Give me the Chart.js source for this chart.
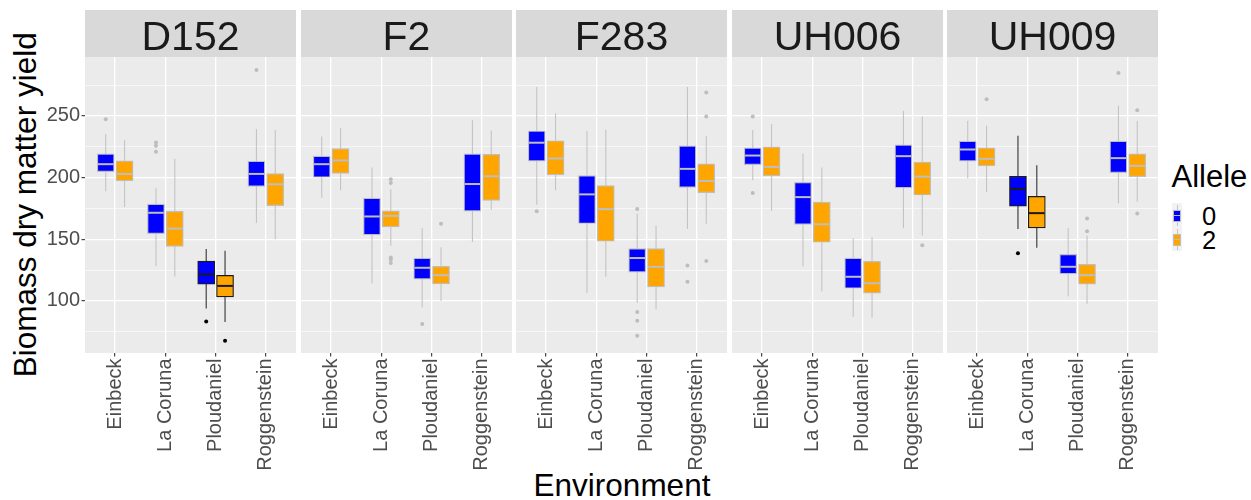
<!DOCTYPE html>
<html>
<head>
<meta charset="utf-8">
<title>Biomass dry matter yield by environment</title>
<script src="https://cdn.jsdelivr.net/npm/chart.js@4.4.1/dist/chart.umd.min.js"></script>
<style>
  body { margin: 0; background: #fff; font-family: "Liberation Sans", Arial, sans-serif; }
  #page { position: relative; width: 1251px; height: 500px; overflow: hidden; }
  .panel { position: absolute; top: 10px; height: 490px; }
  .txt { position: absolute; line-height: 1; white-space: nowrap; color: #000; }
  .key { position: absolute; box-sizing: border-box; }
</style>
</head>
<body>
<div id="page">
  <div class="txt" style="left:-174.4px;top:189px;width:400px;text-align:center;font-size:31.5px;transform:rotate(-90deg)">Biomass dry matter yield</div>
  <div class="txt" style="left:322px;top:469.8px;width:600px;text-align:center;font-size:31.5px">Environment</div>
  <div class="txt" style="left:1171.5px;top:160.5px;font-size:31px">Allele</div>
  <div id="legend"></div>
</div>

<script>
// Facets, categories and groups
const groups = ["D152", "F2", "F283", "UH006", "UH009"];
const environments = ["Einbeck", "La Coruna", "Ploudaniel", "Roggenstein"];
const alleles = ["0", "2"];
const alleleColors = ["#0000FF", "#FFA500"];
const yTicks = [75, 100, 125, 150, 175, 200, 225, 250, 275];

// Box summaries per environment: [lower whisker, Q1, median, Q3, upper whisker]
const D152_0 = [[189, 204.9, 210.9, 219.3, 235.3], [128.3, 154.6, 171.5, 178.5, 191.3], [93.8, 113.6, 121.5, 132.3, 142.1], [163.3, 192.9, 203, 213.3, 239.4]];
const D152_2 = [[176.1, 197.3, 203, 213.6, 230.4], [119.8, 144.3, 158.7, 172.6, 215.2], [82.9, 103.3, 112.2, 120.7, 140.8], [150, 177.2, 194.6, 203.3, 238.6]];
const F2_0 = [[183.7, 200.3, 210.9, 217.4, 233.4], [114.1, 153.5, 168.5, 183.4, 208.2], [94.6, 117.7, 126.9, 134.8, 159.2], [147.8, 172.8, 194.8, 219.3, 246.5]];
const F2_2 = [[189.7, 203.5, 213.9, 223.6, 240.2], [144.8, 160.1, 169, 173.1, 190.5], [100, 113.9, 120.9, 128, 143.5], [173.9, 181.5, 201.1, 218.8, 238.3]];
const F283_0 = [[178, 213.3, 228.3, 237.8, 273.4], [106.5, 162.8, 186.4, 201.6, 237.8], [98.6, 123.4, 134.8, 142.4, 170.7], [158.4, 192.1, 207.1, 225.8, 273.4]];
const F283_2 = [[189.7, 202.2, 215.5, 229.9, 252.2], [119.6, 148.4, 174.5, 193.5, 238.9], [93.2, 111.4, 127.7, 142.4, 161.1], [162.5, 187.8, 197.3, 211.1, 234]];
const UH006_0 = [[197.8, 210.6, 217.9, 224.2, 238.6], [128, 162, 184.2, 196.2, 219.6], [87, 110.3, 119.6, 134.8, 150.8], [159, 191.6, 217.4, 226.6, 254.3]];
const UH006_2 = [[173.1, 201.4, 208.7, 225, 243.5], [107.6, 147.6, 162.2, 180.2, 208.2], [86.4, 106.3, 114.4, 132.1, 151.6], [153, 185.9, 200.8, 212.5, 249.5]];
const UH009_0 = [[199.5, 213.3, 222.8, 229.6, 246.2], [158.4, 176.9, 190.8, 201.1, 234], [103.8, 122, 127.7, 137.8, 159.2], [179.3, 204.1, 215.8, 229.6, 258.4]];
const UH009_2 = [[188.3, 209.5, 215.2, 224.2, 242.1], [143.2, 159.2, 171.2, 184.8, 210.1], [97.8, 113.6, 120.9, 129.6, 153], [180.7, 200.8, 209.5, 219.3, 245.9]];

// Outliers per environment
const D152_0_out = [[247.3], [228.5, 225.8, 220.9], [83.4], [287.2]];
const D152_2_out = [[], [], [67.7], []];
const F2_0_out = [[], [], [81.3], []];
const F2_2_out = [[], [198.6, 195.7, 135.3, 133.7, 130.7], [162.5], []];
const F283_0_out = [[172.8], [], [174.5, 91, 84, 71.7], [128.8, 115.5]];
const F283_2_out = [[], [], [], [269, 249.5, 132.3]];
const UH006_0_out = [[249.5, 187.5], [], [], []];
const UH006_2_out = [[], [], [], [145.1]];
const UH009_0_out = [[], [138.6], [], [284.8]];
const UH009_2_out = [[263.6], [], [166.8, 156.5], [254.6, 170.9]];

// Boxes drawn with a dark outline (one environment per facet, or none)
const highlighted = ["Ploudaniel", null, null, null, "La Coruna"];

const summaries = [[D152_0, D152_2], [F2_0, F2_2], [F283_0, F283_2], [UH006_0, UH006_2], [UH009_0, UH009_2]];
const outliers = [[D152_0_out, D152_2_out], [F2_0_out, F2_2_out], [F283_0_out, F283_2_out], [UH006_0_out, UH006_2_out], [UH009_0_out, UH009_2_out]];

Chart.defaults.font.family = '"Liberation Sans", Arial, sans-serif';

const panelLeft = [85, 301, 516, 732, 947];
const panelWidth = 211;
const stripHeight = 47;
const dodge = [-0.1875, 0.1875];

// Facet strip and grey panel background
const stripPlugin = {
    id: "strip",
    beforeDraw(chart, args, opts) {
        const { ctx, chartArea: a } = chart;
        ctx.save();
        ctx.fillStyle = "#D9D9D9";
        ctx.fillRect(a.left, a.top - stripHeight, a.right - a.left, stripHeight);
        ctx.fillStyle = "#EBEBEB";
        ctx.fillRect(a.left, a.top, a.right - a.left, a.bottom - a.top);
        ctx.fillStyle = "#1A1A1A";
        ctx.font = '41px "Liberation Sans", Arial, sans-serif';
        ctx.textAlign = "center";
        ctx.textBaseline = "alphabetic";
        ctx.fillText(opts.text, (a.left + a.right) / 2, a.top - 6.7);
        ctx.restore();
    }
};

function lineColor(i, j, dark, light) {
    return environments[j] === highlighted[i] ? dark : light;
}

// Build the box plot datasets of one facet
function facetDatasets(i) {
    const datasets = [];
    alleles.forEach((a, k) => {
        const stats = summaries[i][k];
        const dx = dodge[k];
        const edge = stats.map((_, j) => lineColor(i, j, "#1A1A1A", "#BEBEBE"));
        const whisk = stats.map((_, j) => lineColor(i, j, "#333333", "#C4C4C4"));

        datasets.push({
            type: "bar", order: 4, grouped: false, barPercentage: 1, categoryPercentage: 1,
            maxBarThickness: 1.1, inflateAmount: 0,
            data: stats.map((s, j) => ({ x: j + dx, y: [s[0], s[4]] })),
            backgroundColor: whisk
        });
        datasets.push({
            type: "bar", order: 3, grouped: false, barPercentage: 1, categoryPercentage: 1,
            maxBarThickness: 17, borderSkipped: false, borderWidth: 1.2,
            data: stats.map((s, j) => ({ x: j + dx, y: [s[1], s[3]] })),
            backgroundColor: alleleColors[k],
            borderColor: edge
        });
        datasets.push({
            type: "scatter", order: 2,
            data: stats.map((s, j) => ({ x: j + dx, y: s[2] })),
            pointStyle: "line", pointRadius: 7.8, pointBorderWidth: 2,
            pointBorderColor: edge
        });
        const pts = [];
        const ptColors = [];
        outliers[i][k].forEach((vals, j) => {
            vals.forEach(v => {
                pts.push({ x: j + dx, y: v });
                ptColors.push(lineColor(i, j, "#000000", "#BDBDBD"));
            });
        });
        datasets.push({
            type: "scatter", order: 1, data: pts,
            pointRadius: 2, pointBorderWidth: 0, pointBackgroundColor: ptColors
        });
    });
    return datasets;
}

function drawFacet(i) {
    const axisW = i === 0 ? 85 : 0;
    const div = document.createElement("div");
    div.className = "panel";
    div.style.left = (panelLeft[i] - axisW) + "px";
    div.style.width = (panelWidth + axisW) + "px";
    const canvas = document.createElement("canvas");
    div.appendChild(canvas);
    document.getElementById("page").appendChild(div);

    new Chart(canvas, {
        type: "bar",
        data: { datasets: facetDatasets(i) },
        plugins: [stripPlugin],
        options: {
            responsive: true,
            maintainAspectRatio: false,
            animation: false,
            events: [],
            layout: { autoPadding: false, padding: { top: stripHeight, left: 0, right: 0, bottom: 0 } },
            plugins: {
                legend: { display: false },
                tooltip: { enabled: false },
                strip: { text: groups[i] }
            },
            scales: {
                x: {
                    type: "linear", min: -0.6, max: 3.6, offset: false,
                    afterBuildTicks: s => { s.ticks = environments.map((_, j) => ({ value: j })); },
                    afterFit: s => { s.height = 147; s.paddingLeft = 0; s.paddingRight = 0; },
                    ticks: {
                        callback: v => environments[v],
                        minRotation: 90, maxRotation: 90, autoSkip: false, padding: 2,
                        color: "#4D4D4D", font: { size: 20 }
                    },
                    grid: { offset: false, color: "#FFFFFF", lineWidth: 1.3, tickLength: 3.5, tickColor: "#333333", tickWidth: 1.1 },
                    border: { display: false }
                },
                y: {
                    min: 57.8, max: 297.8,
                    afterBuildTicks: s => { s.ticks = yTicks.map(v => ({ value: v })); },
                    afterFit: s => { s.width = axisW; s.paddingTop = 0; s.paddingBottom = 0; },
                    ticks: {
                        display: i === 0,
                        callback: v => v % 50 === 0 ? String(v) : "",
                        padding: 1.5, color: "#4D4D4D", font: { size: 20 }
                    },
                    grid: {
                        color: "#FFFFFF",
                        lineWidth: c => (c.tick && c.tick.value % 50 === 0) ? 1.3 : 0.6,
                        drawTicks: i === 0,
                        tickLength: 3.5,
                        tickWidth: 1.1,
                        tickColor: c => (c.tick && c.tick.value % 50 === 0) ? "#333333" : "rgba(0,0,0,0)"
                    },
                    border: { display: false }
                }
            }
        }
    });
}

// Legend keys (small box glyphs)
function drawLegend() {
    const legend = document.getElementById("legend");
    let html = '<div class="key" style="left:1172px;top:203px;width:10px;height:47.5px;background:#F2F2F2"></div>';
    alleles.forEach((a, k) => {
        const top = 203 + k * 24;
        html += `<div class="key" style="left:1176.5px;top:${top + 2}px;width:1px;height:21px;background:#C4C4C4"></div>`;
        html += `<div class="key" style="left:1173px;top:${top + 7}px;width:8px;height:11.5px;background:${alleleColors[k]};border:1px solid #BEBEBE"></div>`;
        html += `<div class="key" style="left:1173px;top:${top + 12}px;width:8px;height:1.2px;background:#BEBEBE"></div>`;
        html += `<div class="txt" style="left:1202px;top:${top + 0.5}px;font-size:25.5px">${a}</div>`;
    });
    legend.innerHTML = html;
}

groups.forEach((g, i) => drawFacet(i));
drawLegend();
</script>
</body>
</html>
